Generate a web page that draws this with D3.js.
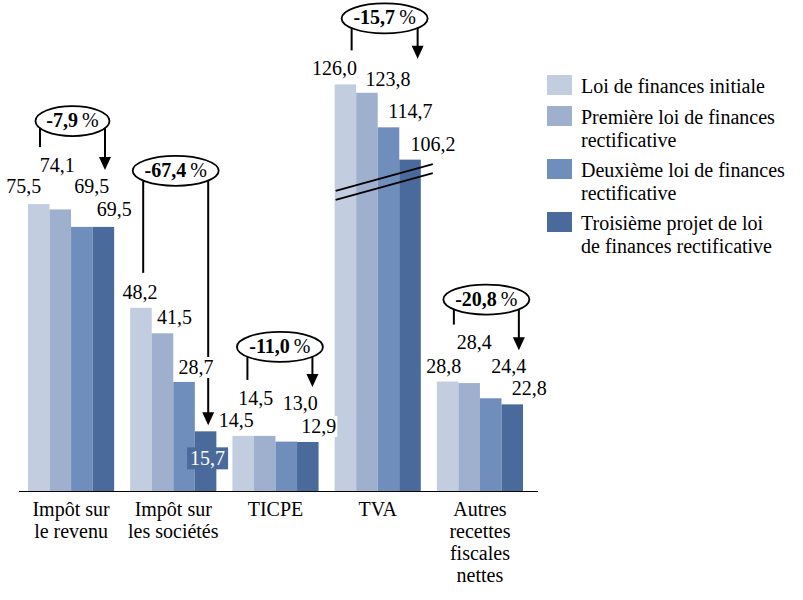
<!DOCTYPE html>
<html><head><meta charset="utf-8">
<script src="https://cdn.jsdelivr.net/npm/d3@7"></script>
</head><body style="margin:0;background:#fff">
<svg id="c" width="803" height="600" style="display:block"></svg>
<script>
// ---- data ----
const categories = ["Impôt sur\nle revenu", "Impôt sur\nles sociétés", "TICPE", "TVA", "Autres\nrecettes\nfiscales\nnettes"];
const seriesNames = ["Loi de finances initiale", "Première loi de finances\nrectificative", "Deuxième loi de finances\nrectificative", "Troisième projet de loi\nde finances rectificative"];
const lfi   = [75.5, 48.2, 14.5, 126.0, 28.8];
const lfr1  = [74.1, 41.5, 14.5, 123.8, 28.4];
const lfr2  = [69.5, 28.7, 13.0, 114.7, 24.4];
const plfr3 = [69.5, 15.7, 12.9, 106.2, 22.8];
const changes = [-7.9, -67.4, -11.0, -15.7, -20.8];

// ---- styling / layout ----
const FONT = '"Liberation Serif", "Times New Roman", serif';
const colors = ["#c2cde0", "#9eb0ce", "#6f8ebb", "#4a6a9b"];
const tvaBreak = 19; // units cut out of the TVA bars (broken axis)
// label nudges: [dx from bar centre, baseline offset from bar top]
const labelNudge = [
  [[-15,-11],[-3,-37],[10,-34],[11,-11]],
  [[-1,-9],[12,-9],[12,-8],[2,34]],
  [[-7,-9],[-9,-31],[14,-32],[11,-9]],
  [[-11,-9],[21,-7],[22,-9],[23,-9]],
  [[-4,-9],[5,-34],[18,-25],[17,-9]]
];
// annotation layout
const annoLayout = [
  {l:12, r:77, cy:-83, le:-57, tip:-57, rx:37},
  {l:13, r:78, cy:-137, le:-35, tip:-6, rx:43},
  {l:15, r:80, cy:-89, le:-56, tip:-55, rx:43},
  {l:17, r:83, cy:-66, le:-34, tip:-101, rx:43},
  {l:17, r:82, cy:-82, le:-57, tip:-54, rx:43}
];

const values = [lfi, lfr1, lfr2, plfr3];
const svg = d3.select("#c")
  .attr("font-family", FONT).attr("font-size", 20).attr("fill", "#000")
  .style("font-family", FONT).style("font-size", "20px");
const x = d3.scaleBand().domain(categories).range([20, 531]).paddingInner(0.157).paddingOuter(0.078);
const xs = d3.scaleBand().domain(d3.range(seriesNames.length)).range([0, x.bandwidth()]);
const y = d3.scaleLinear().domain([0, 100]).range([491, 111]);
const shown = (ci, v) => categories[ci] === "TVA" ? v - tvaBreak : v;
const loc = d3.formatLocale({decimal: ",", thousands: " ", grouping: [3], currency: ["", " €"], minus: "-"});
const fmt = loc.format(".1f");

const rows = [];
categories.forEach((c, ci) => values.forEach((arr, si) => rows.push({c, ci, si, v: arr[ci]})));
const bx = d => x(d.c) + xs(d.si);
const barTop = d => y(shown(d.ci, d.v));

// bars
svg.append("g").selectAll("rect").data(rows).join("rect")
  .attr("x", bx).attr("width", xs.bandwidth())
  .attr("y", barTop).attr("height", d => y(0) - barTop(d))
  .attr("fill", d => colors[d.si]);

// axis break marks on TVA
const tv = x("TVA");
const brk = svg.append("g").attr("stroke", "#000").attr("stroke-width", 1.8);
[0, 9].forEach(off => {
  brk.append("line")
    .attr("x1", tv + 1).attr("y1", y(79) + off)
    .attr("x2", tv + x.bandwidth() + 12).attr("y2", y(86) + off);
});

// baseline
svg.append("line").attr("x1", 19).attr("x2", 538).attr("y1", y(0) + 0.5).attr("y2", y(0) + 0.5)
  .attr("stroke", "#000").attr("stroke-width", 1.2);

// annotations
const ag = svg.append("g");
categories.forEach((c, ci) => {
  const L = annoLayout[ci];
  const xl = x(c) + L.l, xr = x(c) + L.r, cx = (xl + xr) / 2;
  const t1 = y(shown(ci, values[0][ci])), t4 = y(shown(ci, values[3][ci]));
  const cy = t1 + L.cy, le = t1 + L.le, tip = t4 + L.tip;
  ag.append("line").attr("x1", xl).attr("x2", xl).attr("y1", cy).attr("y2", le).attr("stroke", "#000").attr("stroke-width", 2);
  ag.append("line").attr("x1", xr).attr("x2", xr).attr("y1", cy).attr("y2", tip - 11).attr("stroke", "#000").attr("stroke-width", 2);
  ag.append("path").attr("d", `M${xr},${tip}L${xr-6},${tip-13}L${xr+6},${tip-13}Z`).attr("fill", "#000");
  ag.append("ellipse").attr("cx", cx).attr("cy", cy).attr("rx", L.rx).attr("ry", 15)
    .attr("fill", "#fff").attr("stroke", "#000").attr("stroke-width", 1.8);
  const t = ag.append("text").attr("x", cx).attr("y", cy + 6).attr("text-anchor", "middle")
    .style("font-family", FONT).style("font-size", "20px");
  t.append("tspan").attr("font-weight", "bold").style("font-weight", "bold").text(fmt(changes[ci]));
  t.append("tspan").text("\u2009%");
});

// data labels
const lg = svg.append("g");
rows.forEach(d => {
  const n = labelNudge[d.ci][d.si];
  const cxp = bx(d) + xs.bandwidth() / 2 + n[0];
  const by = barTop(d) + n[1];
  const inside = n[1] > 0;
  const g = lg.append("g");
  const bg = g.append("rect");
  const t = g.append("text").attr("x", cxp).attr("y", by).attr("text-anchor", "middle")
    .style("font-family", FONT).style("font-size", "20px")
    .style("fill", inside ? "#fff" : "#000").text(fmt(d.v));
  const bb = t.node().getBBox();
  if (inside) {
    bg.attr("x", bb.x - 3).attr("y", bb.y).attr("width", bb.width + 6).attr("height", bb.height)
      .attr("fill", colors[d.si]);
  } else {
    bg.attr("x", bb.x - 1).attr("y", bb.y + 1).attr("width", bb.width + 2).attr("height", bb.height - 1)
      .attr("fill", "#fff");
  }
});

// category labels
const cg = svg.append("g");
categories.forEach(c => {
  const t = cg.append("text").attr("text-anchor", "middle")
    .style("font-family", FONT).style("font-size", "20px");
  c.split("\n").forEach((line, i) => {
    t.append("tspan").attr("x", x(c) + x.bandwidth() / 2).attr("y", 516 + i * 22).text(line);
  });
});

// legend
const leg = svg.append("g");
let ly = 75;
seriesNames.forEach((s, si) => {
  const lines = s.split("\n");
  leg.append("rect").attr("x", 547).attr("y", ly).attr("width", 25).attr("height", 20).attr("fill", colors[si]);
  const t = leg.append("text").style("font-family", FONT).style("font-size", "20px");
  lines.forEach((line, i) => t.append("tspan").attr("x", 581).attr("y", ly + 18 + i * 23).text(line));
  ly += 9 + 22 * lines.length;
});
</script>
</body></html>
